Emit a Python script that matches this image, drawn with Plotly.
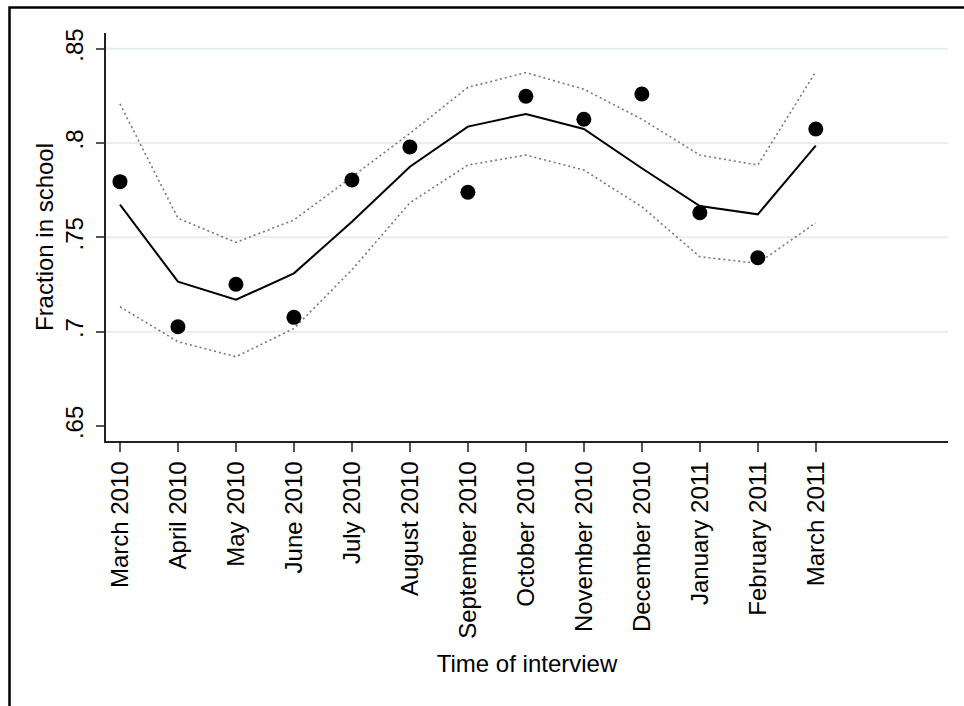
import plotly.graph_objects as go

months = ["March 2010", "April 2010", "May 2010", "June 2010", "July 2010",
          "August 2010", "September 2010", "October 2010", "November 2010",
          "December 2010", "January 2011", "February 2011", "March 2011"]
month_idx = list(range(len(months)))

observed = [0.7795, 0.7026, 0.7251, 0.7076, 0.7804, 0.7979, 0.7739,
            0.8248, 0.8126, 0.8260, 0.7630, 0.7392, 0.8074]
fitted = [0.7673, 0.7265, 0.7169, 0.7309, 0.7583, 0.7874, 0.8087,
          0.8154, 0.8074, 0.7866, 0.7666, 0.7622, 0.7986]
upper_ci = [0.8207, 0.7601, 0.7473, 0.7592, 0.7820, 0.8051, 0.8295,
            0.8373, 0.8285, 0.8126, 0.7936, 0.7883, 0.8378]
lower_ci = [0.7132, 0.6947, 0.6867, 0.7017, 0.7328, 0.7683, 0.7883,
            0.7936, 0.7857, 0.7662, 0.7397, 0.7362, 0.7577]

y_ticks = [0.65, 0.70, 0.75, 0.80, 0.85]
y_tick_text = [".65", ".7", ".75", ".8", ".85"]
grid_vals = [0.70, 0.75, 0.80, 0.85]

FONT = "Liberation Sans, Arial, Helvetica, sans-serif"

fig = go.Figure()

dot_line = dict(color="#777777", width=1.6, dash="2px,3px")
fig.add_trace(go.Scatter(x=month_idx, y=upper_ci, mode="lines", line=dot_line,
                         showlegend=False, hoverinfo="skip"))
fig.add_trace(go.Scatter(x=month_idx, y=lower_ci, mode="lines", line=dot_line,
                         showlegend=False, hoverinfo="skip"))
fig.add_trace(go.Scatter(x=month_idx, y=fitted, mode="lines",
                         line=dict(color="black", width=2),
                         showlegend=False))
fig.add_trace(go.Scatter(x=month_idx, y=observed, mode="markers",
                         marker=dict(color="black", size=15, line=dict(width=0)),
                         showlegend=False))

for g in grid_vals:
    fig.add_shape(type="line", xref="paper", yref="y", x0=0, x1=1, y0=g, y1=g,
                  line=dict(color="#e6eef1", width=2), layer="below")

# outer frame
fig.add_shape(type="rect", xref="paper", yref="paper",
              x0=-0.1146, x1=1.2, y0=-1.0, y1=1.0625,
              line=dict(color="black", width=2.5), layer="above")

fig.update_layout(
    width=964, height=706,
    margin=dict(l=106, r=16, t=33, b=265),
    paper_bgcolor="white", plot_bgcolor="white",
    font=dict(family=FONT, size=24, color="black"),
    xaxis=dict(
        range=[-0.241, 14.28],
        tickmode="array", tickvals=month_idx, ticktext=months,
        tickangle=-90, ticks="outside", ticklen=9, tickwidth=1.5,
        tickcolor="#555555", showgrid=False, zeroline=False,
        showline=True, linecolor="#222222", linewidth=1.5,
        tickfont=dict(size=24), ticklabelstandoff=0,
        title=dict(text="Time of interview", standoff=17, font=dict(size=24)),
    ),
    yaxis=dict(
        range=[0.64205, 0.8583],
        tickmode="array", tickvals=y_ticks, ticktext=y_tick_text,
        tickangle=-90, ticks="outside", ticklen=8, tickwidth=1.5,
        tickcolor="#555555", showgrid=False, zeroline=False,
        showline=True, linecolor="#222222", linewidth=1.5,
        tickfont=dict(size=24), ticklabelstandoff=4,
        title=dict(text="Fraction in school", standoff=0, font=dict(size=24)),
        automargin=False,
    ),
)

fig.write_html("out.html",
               config={"displayModeBar": False},
               post_script="document.body.style.margin='0';")
